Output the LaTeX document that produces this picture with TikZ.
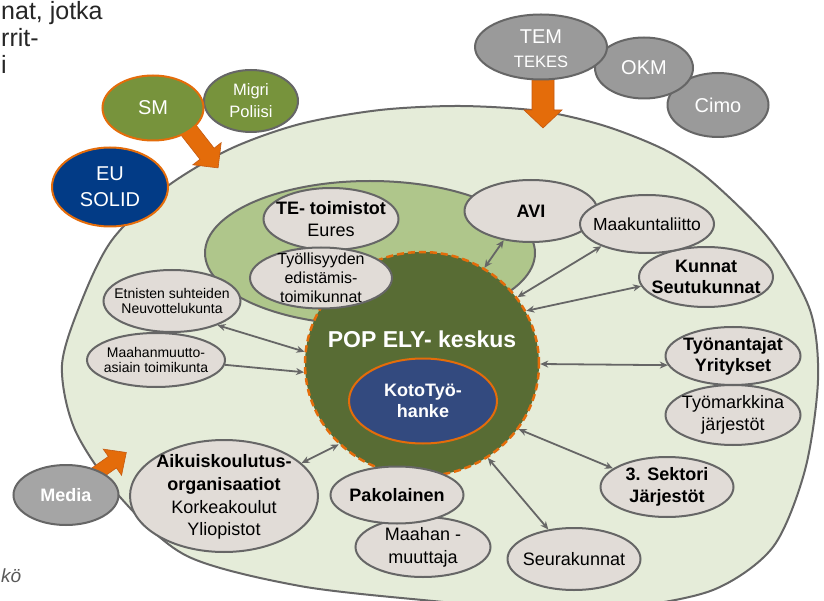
\documentclass[tikz,border=0pt]{standalone}
\usepackage{fontspec}
\setmainfont{Liberation Sans}
\usetikzlibrary{shapes.geometric,arrows.meta}
\definecolor{edgegray}{HTML}{666666}
\definecolor{nodefill}{HTML}{E1DCD7}
\definecolor{bigfill}{HTML}{E5ECD9}
\definecolor{midgreen}{HTML}{AFC68B}
\definecolor{popgreen}{HTML}{586C34}
\definecolor{orng}{HTML}{E46C0A}
\definecolor{orngdark}{HTML}{C55A11}
\definecolor{kotoblue}{HTML}{334A7F}
\definecolor{eublue}{HTML}{023B86}
\definecolor{smgreen}{HTML}{77933C}
\definecolor{topgray}{HTML}{9A9A9A}
\definecolor{mediagray}{HTML}{A5A5A5}
\definecolor{conngray}{HTML}{666666}
\definecolor{slidetext}{HTML}{262626}
\definecolor{slidegray}{HTML}{595959}
\newcommand{\fsz}[2]{\fontsize{#1}{#2}\selectfont}
\newcommand{\blockarr}[7]{%
  \begin{scope}[shift={(#1,#2)},rotate=#3]
    \draw[barrow] (0,-#5) -- ({#4-#7},-#5) -- ({#4-#7},-#6) -- (#4,0) -- ({#4-#7},#6) -- ({#4-#7},#5) -- (0,#5) -- cycle;
  \end{scope}}
\begin{document}
\begin{tikzpicture}[x=1pt,y=-1pt,
  gnode/.style={ellipse, draw=edgegray, line width=2pt, fill=nodefill, inner sep=0pt},
  onode/.style={ellipse, draw=orng, line width=2pt, inner sep=0pt},
  tnode/.style={ellipse, draw=edgegray, line width=2pt, fill=topgray, inner sep=0pt},
  txt/.style={align=center, inner sep=0pt, text=black},
  wtxt/.style={align=center, inner sep=0pt, text=white},
  barrow/.style={fill=orng, draw=orngdark, line width=0.6pt, line join=miter},
  conn/.style={draw=conngray, line width=1.8pt, {Stealth[length=8pt,width=7pt]}-{Stealth[length=8pt,width=7pt]}},
  connone/.style={draw=conngray, line width=1.8pt, -{Stealth[length=8pt,width=7pt]}}
]
\useasboundingbox (0,0) rectangle (824,601);
\clip (0,0) rectangle (824,601);
\fill[white] (0,0) rectangle (824,601);

% slide text fragments
\node[anchor=base west, inner sep=0pt, text=slidetext, font=\fsz{25}{28}] (s1) at (1,19.5) {nat, jotka};
\node[anchor=base west, inner sep=0pt, text=slidetext, font=\fsz{25}{28}] (s2) at (1,47) {rrit-};
\node[anchor=base west, inner sep=0pt, text=slidetext, font=\fsz{25}{28}] (s3) at (1,74) {i};
\node[anchor=base west, inner sep=0pt, text=slidegray, font=\fsz{19}{22}\itshape] (s4) at (1,582) {kö};

% big ellipse
\draw[draw=edgegray, line width=2pt, fill=bigfill] plot[smooth cycle] coordinates {
 (62,365) (82,300) (112,240) (165,188) (230,149) (300,124) (380,110) (460,106)
 (540,111) (605,126) (665,150) (710,180) (770,240) (810,310) (818,380) (805,470)
 (773,547) (713,590) (620,608) (520,608) (433,601) (300,586) (187,556) (120,497) (75,430)};

% TE region
\node[ellipse, draw=edgegray, line width=2pt, fill=midgreen, inner sep=0pt,
      minimum width=330, minimum height=144] (tereg) at (370,253) {};

\node[gnode, minimum width=135, minimum height=62] (te) at (331,219) {};
\node[txt, font=\fsz{18}{22}] (teT) at (te) {\textbf{TE- toimistot}\\Eures};

% POP ELY circle
\node[ellipse, fill=popgreen, draw=orng, line width=2.5pt, dash pattern=on 7pt off 4pt,
      inner sep=0pt, minimum width=234, minimum height=224] (pop) at (422,364) {};
\node[wtxt, font=\fsz{23}{26}\bfseries] (popT) at (422,339) {POP ELY- keskus};
\node[onode, fill=kotoblue, minimum width=148, minimum height=85] (koto) at (423,401) {};
\node[wtxt, font=\fsz{18}{21}\bfseries] (kotoT) at (koto) {KotoTyö-\\hanke};

\node[gnode, minimum width=142, minimum height=61] (tyoll) at (321,278) {};
\node[txt, font=\fsz{16}{19}] (tyollT) at (tyoll) {Työllisyyden\\edistämis-\\toimikunnat};

\node[gnode, minimum width=133, minimum height=62] (avi) at (531,211) {};
\node[txt, font=\fsz{18}{22}\bfseries] (aviT) at (avi) {AVI};

\node[gnode, minimum width=134, minimum height=60] (kunnat) at (706,277) {};
\node[txt, font=\fsz{18}{21}\bfseries] (kunnatT) at (kunnat) {Kunnat\\Seutukunnat};

\node[gnode, minimum width=134, minimum height=58] (maak) at (647,224) {};
\node[txt, font=\fsz{17.5}{21}] (maakT) at (maak) {Maakuntaliitto};

\node[gnode, minimum width=137, minimum height=62] (etn) at (172,301) {};
\node[txt, font=\fsz{14}{15.5}] (etnT) at (etn) {Etnisten suhteiden\\Neuvottelukunta};

\node[gnode, minimum width=138, minimum height=54] (maam) at (156,360) {};
\node[txt, font=\fsz{14}{15.5}] (maamT) at (maam) {Maahanmuutto-\\asiain toimikunta};

\node[gnode, minimum width=135, minimum height=60] (tyom) at (733,415) {};
\node[txt, font=\fsz{18}{22}] (tyomT) at (tyom) {Työmarkkina\\järjestöt};

\node[gnode, minimum width=135, minimum height=58] (tyon) at (733,356) {};
\node[txt, font=\fsz{18}{21}\bfseries] (tyonT) at (tyon) {Työnantajat\\Yritykset};

\node[gnode, minimum width=133, minimum height=60] (sekt) at (667,487) {};
\node[txt, font=\fsz{18}{22}\bfseries] (sektT) at (sekt) {3. Sektori\\Järjestöt};

\node[gnode, minimum width=133, minimum height=62] (seur) at (574,559) {};
\node[txt, font=\fsz{18}{22}] (seurT) at (seur) {Seurakunnat};

\node[gnode, minimum width=135, minimum height=60] (muut) at (423,547) {};
\node[txt, font=\fsz{18}{23}] (muutT) at (muut) {Maahan -\\muuttaja};

\node[gnode, minimum width=133, minimum height=57] (pako) at (397,495) {};
\node[txt, font=\fsz{18}{22}\bfseries] (pakoT) at (pako) {Pakolainen};

\node[gnode, minimum width=188, minimum height=112] (aik) at (224,496) {};
\node[txt, font=\fsz{18}{22.7}] (aikT) at (224,497) {\textbf{Aikuiskoulutus-}\\\textbf{organisaatiot}\\Korkeakoulut\\Yliopistot};

% orange block arrows
\blockarr{183}{123}{-52}{57}{9}{18}{18}
\blockarr{543}{75}{-90}{53}{11}{19}{18}
\blockarr{87}{480}{35}{48}{7}{16}{17}

% outside nodes
\node[ellipse, draw=edgegray, line width=2pt, fill=mediagray, inner sep=0pt,
      minimum width=105, minimum height=60] (media) at (66,495) {};
\node[wtxt, font=\fsz{18}{22}\bfseries] (mediaT) at (media) {Media};

\node[onode, fill=eublue, minimum width=116, minimum height=79] (eu) at (110,187) {};
\node[wtxt, font=\fsz{20}{26}] (euT) at (eu) {EU\\SOLID};

\node[ellipse, draw=edgegray, line width=2pt, fill=smgreen, inner sep=0pt,
      minimum width=94, minimum height=62] (migri) at (251,101) {};
\node[wtxt, font=\fsz{16.5}{22}] (migriT) at (migri) {Migri\\Poliisi};

\node[onode, fill=smgreen, minimum width=101, minimum height=65] (sm) at (153,108) {};
\node[wtxt, font=\fsz{20}{24}] (smT) at (sm) {SM};

\node[tnode, minimum width=101, minimum height=64] (cimo) at (718,105) {};
\node[wtxt, font=\fsz{20}{24}] (cimoT) at (cimo) {Cimo};

\node[tnode, minimum width=98, minimum height=61] (okm) at (644,68) {};
\node[wtxt, font=\fsz{20}{24}] (okmT) at (okm) {OKM};

\node[tnode, minimum width=132, minimum height=65] (tem) at (541,47) {};
\node[wtxt, font=\fsz{20}{24}] (temT) at (541,49) {TEM\\{\fsz{16.5}{20}TEKES}};

% connectors
\draw[conn] (avi.227) -- (pop.57);
\draw[conn] (maak.206) -- (pop.35);
\draw[conn] (kunnat.188) -- (pop.27);
\draw[conn] (etn.332) -- (pop.174);
\draw[connone] (maam.356) -- (pop.184);
\draw[conn] (tyon.188) -- (pop.0);
\draw[conn] (sekt.161) -- (pop.326);
\draw[conn] (seur.131) -- (pop.305);
\draw[conn] (aik.23) -- (pop.224);
\end{tikzpicture}
\end{document}
